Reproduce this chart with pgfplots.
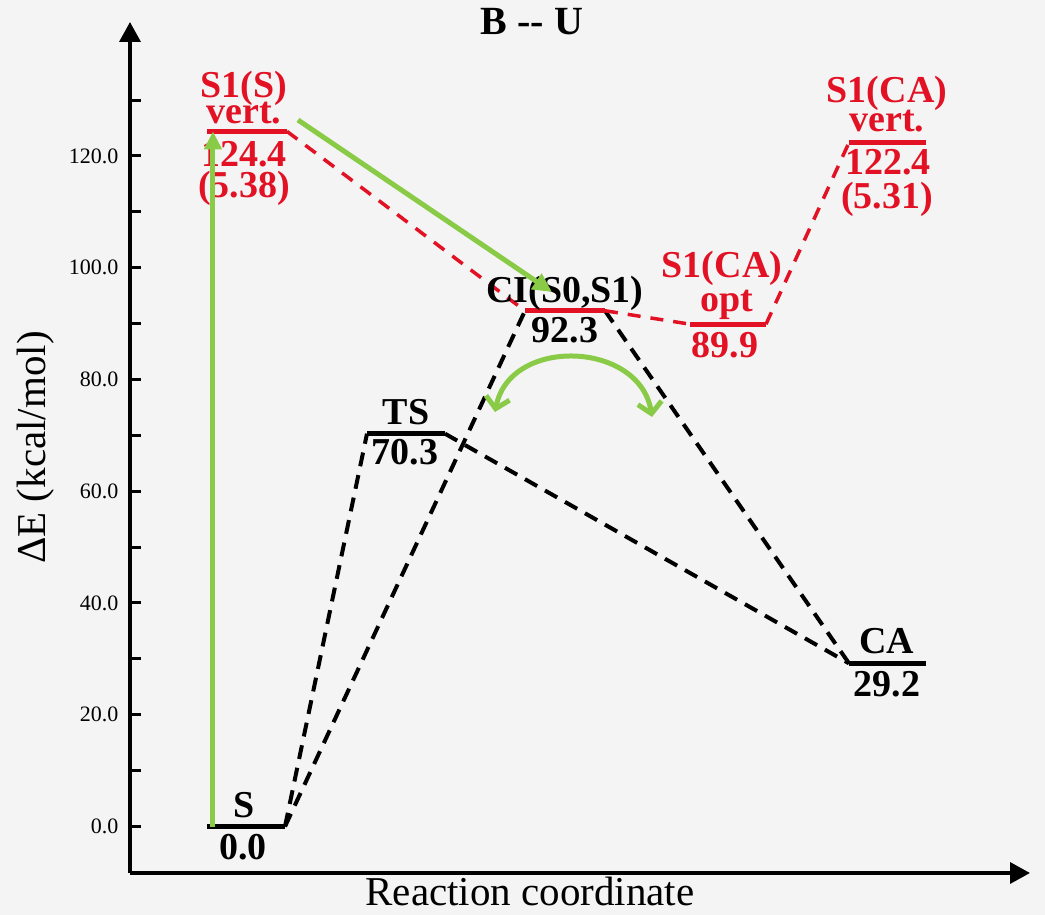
\documentclass[border=0pt]{standalone}
\usepackage{pgfplots}
\pgfplotsset{compat=1.18}
\usepackage{fontspec}
\setmainfont{Liberation Serif}
\usetikzlibrary{arrows.meta}
\definecolor{bgc}{RGB}{244,244,244}
\definecolor{myred}{RGB}{226,18,36}
\definecolor{mygreen}{RGB}{137,202,70}
\newcommand{\lbl}{\fontsize{38}{40}\selectfont\bfseries}
\tikzset{lv/.style={anchor=base, inner sep=0pt, font=\lbl}}
\begin{document}
\begin{tikzpicture}
\fill[bgc] (0,0) rectangle (1045pt,915pt);
\begin{axis}[
  at={(130pt,42pt)}, anchor=south west,
  width=900pt, height=851pt, scale only axis,
  xmin=130, xmax=1030, ymin=-8.32, ymax=143.98,
  axis lines=left,
  axis line style={line width=3.5pt},
  every outer x axis line/.append style={-{Triangle[length=20pt,width=21pt]}},
  every outer y axis line/.append style={-{Triangle[length=20pt,width=21pt]}},
  clip=false,
  xtick=\empty,
  ytick={0,20,...,120},
  minor ytick={10,30,...,130},
  tick align=inside,
  major tick length=11pt, minor tick length=11pt,
  tick style={line width=3pt, black},
  yticklabel style={font=\fontsize{22}{22}\selectfont, xshift=-8pt, /pgf/number format/.cd, fixed, fixed zerofill, precision=1, assume math mode=true},
  ylabel={ΔE (kcal/mol)},
  ylabel style={at={(axis description cs:-0.1044,0.5)}, anchor=center, font=\fontsize{41}{41}\selectfont, inner sep=0pt},
  xlabel={Reaction coordinate},
  xlabel style={at={(axis description cs:0.4444,-0.0385)}, anchor=base, font=\fontsize{41}{41}\selectfont, inner sep=0pt},
  title={B -{}- U},
  title style={at={(axis description cs:0.4467,0.9777)}, anchor=base, font=\fontsize{40}{40}\selectfont\bfseries, inner sep=0pt},
]
% dashed connectors
\addplot[black, line width=4pt, dash pattern=on 14pt off 9pt] coordinates {(285,0) (367,70.3)};
\addplot[black, line width=4pt, dash pattern=on 14pt off 9pt] coordinates {(285,0) (525,92.3)};
\addplot[black, line width=4pt, dash pattern=on 14pt off 9pt] coordinates {(445,70.3) (849,29.2)};
\addplot[black, line width=4pt, dash pattern=on 14pt off 9pt] coordinates {(605,92.3) (849,29.2)};
\addplot[myred, line width=3.5pt, dash pattern=on 13pt off 10pt] coordinates {(287,124.4) (525,92.3)};
\addplot[myred, line width=3.5pt, dash pattern=on 13pt off 10pt] coordinates {(605,92.3) (690,89.9)};
\addplot[myred, line width=3.5pt, dash pattern=on 13pt off 10pt] coordinates {(766,89.9) (849,122.4)};
% levels
\addplot[black, line width=5pt] coordinates {(207,0) (285,0)};
\addplot[myred, line width=5pt] coordinates {(207,124.4) (287,124.4)};
\addplot[black, line width=5pt] coordinates {(367,70.3) (445,70.3)};
\addplot[myred, line width=5pt] coordinates {(525,92.3) (605,92.3)};
\addplot[myred, line width=5pt] coordinates {(690,89.9) (766,89.9)};
\addplot[myred, line width=5pt] coordinates {(849,122.4) (926,122.4)};
\addplot[black, line width=5pt] coordinates {(849,29.2) (926,29.2)};
% labels
\node[myred, lv] at (axis cs:244,130.38) {S1(S)};
\node[myred, lv] at (axis cs:244,125.73) {vert.};
\node[myred, lv] at (axis cs:244,118.03) {124.4};
\node[myred, lv] at (axis cs:244,112.48) {(5.38)};
\node[black, lv] at (axis cs:565,93.69) {CI(S0,S1)};
\node[black, lv] at (axis cs:565,86.53) {92.3};
\node[myred, lv] at (axis cs:722,98.17) {S1(CA)};
\node[myred, lv] at (axis cs:727,92.08) {opt};
\node[myred, lv] at (axis cs:725,83.85) {89.9};
\node[myred, lv] at (axis cs:887,129.49) {S1(CA)};
\node[myred, lv] at (axis cs:887,124.30) {vert.};
\node[myred, lv] at (axis cs:888,116.60) {122.4};
\node[myred, lv] at (axis cs:887,110.69) {(5.31)};
\node[black, lv] at (axis cs:887,31.05) {CA};
\node[black, lv] at (axis cs:887,23.18) {29.2};
\node[black, lv] at (axis cs:406,71.86) {TS};
\node[black, lv] at (axis cs:405,64.70) {70.3};
\node[black, lv] at (axis cs:244,1.70) {S};
\node[black, lv] at (axis cs:243,-5.82) {0.0};
% green arrows
\addplot[mygreen, line width=5pt, -{Triangle[length=18pt,width=17pt]}] coordinates {(213,0) (213,124.4)};
\addplot[mygreen, line width=5pt, -{Triangle[length=19pt,width=18pt]}] coordinates {(298,126.44) (552,95.66)};
\draw[mygreen, line width=5pt, {Straight Barb[length=11pt,width=24pt]}-{Straight Barb[length=11pt,width=24pt]}] (axis cs:495,74.18) .. controls (axis cs:510,87.78) and (axis cs:640,86.89) .. (axis cs:652,73.29);
\end{axis}
\end{tikzpicture}
\end{document}
